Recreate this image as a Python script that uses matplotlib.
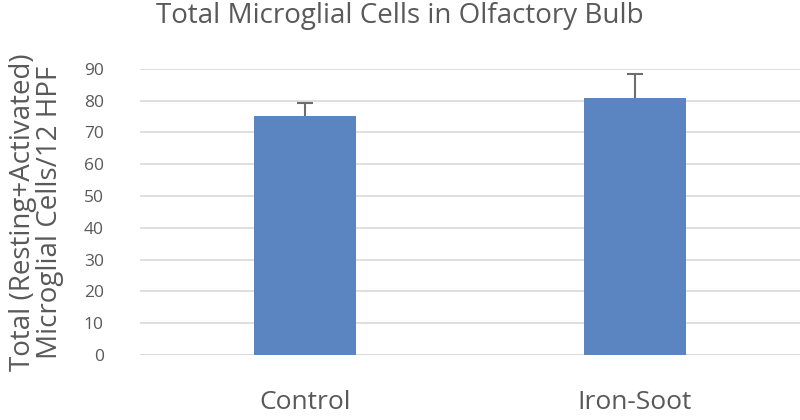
import matplotlib.pyplot as plt
import numpy as np

plt.rcParams['font.family'] = ['Open Sans', 'DejaVu Sans']

# Data
groups = ['Control', 'Iron-Soot']
means = [75.2, 80.9]
errors = [4.1, 7.5]
yticks = [0, 10, 20, 30, 40, 50, 60, 70, 80, 90]

bar_color = '#5b85c0'
text_color = '#595959'
grid_color = '#d9d9d9'

fig = plt.figure(figsize=(8, 4.2), dpi=100)
ax = fig.add_axes([0.175, 0.155, 0.825, 0.681])

x = np.arange(len(groups))
ax.bar(x, means, width=0.31, color=bar_color, zorder=3)
# upper-only error bars
_, caps, _ = ax.errorbar(x, means, yerr=[[0] * len(errors), errors], fmt='none',
                         ecolor='#6e6e6e', elinewidth=1.5, capsize=6,
                         capthick=1.5, zorder=4)
caps[0].set_visible(False)

ax.set_xlim(-0.5, 1.5)
ax.set_ylim(0, 90)
ax.set_yticks(yticks)
ax.set_xticks(x)
ax.set_xticklabels(groups, fontsize=19, color=text_color)
ax.tick_params(axis='x', length=0, pad=25)
ax.tick_params(axis='y', length=0, pad=26, labelsize=12.5, labelcolor=text_color)
ax.yaxis.grid(True, color=grid_color, linewidth=1.2, zorder=0)
for s in ax.spines.values():
    s.set_visible(False)
ax.axhline(0, color=grid_color, linewidth=1.2, zorder=1)

ax.set_ylabel('Total (Resting+Activated)\nMicroglial Cells/12 HPF', fontsize=20,
              color=text_color, labelpad=14, linespacing=0.95)
fig.suptitle('Total Microglial Cells in Olfactory Bulb', fontsize=20,
             color=text_color, x=0.5, y=0.995)

fig.savefig('out.png', dpi=100)
